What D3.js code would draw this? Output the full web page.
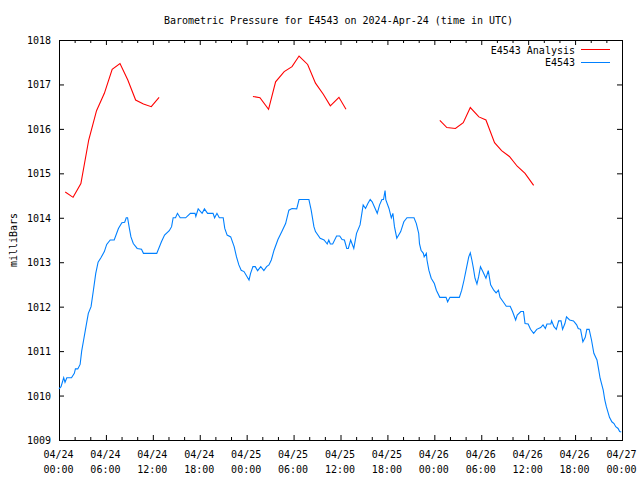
<!DOCTYPE html>
<html><head><meta charset="utf-8">
<script src="https://cdn.jsdelivr.net/npm/d3@7"></script>
<style>
body{margin:0;background:#fff}
svg text{font-family:"DejaVu Sans Mono",monospace;font-size:10px;fill:#000}
</style>
</head><body><svg id="c" width="640" height="480"></svg>
<script>
const titleText = "Barometric Pressure for E4543 on 2024-Apr-24 (time in UTC)";
const yLabelText = "milliBars";
const seriesNames = ["E4543 Analysis", "E4543"];
const seriesColors = ["#ff0000", "#0080ff"];
const xTickHours = [0,6,12,18,24,30,36,42,48,54,60,66,72];
const xTickDates = ["04/24","04/24","04/24","04/24","04/25","04/25","04/25","04/25","04/26","04/26","04/26","04/26","04/27"];
const xTickTimes = ["00:00","06:00","12:00","18:00","00:00","06:00","12:00","18:00","00:00","06:00","12:00","18:00","00:00"];
const yTicks = [1009,1010,1011,1012,1013,1014,1015,1016,1017,1018];

// Analysis series (hours since 04/24 00:00 UTC); null = gap
const analysisHours = [0.8,1.8,2.8,3.8,4.8,5.8,6.8,7.8,8.8,9.8,10.8,11.8,12.8,
  18.8,
  24.8,25.7,26.8,27.7,28.8,29.8,30.7,31.8,32.8,33.8,34.7,35.8,36.7,
  42.8,
  48.7,49.6,50.7,51.7,52.6,53.7,54.6,55.7,56.6,57.6,58.6,59.6,60.7];
const analysisValues = [1014.58,1014.46,1014.77,1015.75,1016.41,1016.80,1017.34,1017.47,1017.10,1016.65,1016.56,1016.50,1016.71,
  null,
  1016.73,1016.70,1016.44,1017.06,1017.29,1017.40,1017.64,1017.45,1017.03,1016.78,1016.52,1016.71,1016.44,
  null,
  1016.19,1016.03,1016.01,1016.14,1016.48,1016.27,1016.20,1015.69,1015.51,1015.38,1015.16,1015.00,1014.73];

// Observed series
const obsHours = [0,0.26,0.6,0.77,1.0,1.6,1.96,2.1,2.4,2.7,2.9,3.15,3.45,3.75,4.1,4.4,4.7,5.0,5.36,5.8,
  6.1,6.55,7.06,7.6,8.04,8.4,8.6,8.77,9.0,9.2,9.5,10.0,10.55,10.8,12.5,13.1,13.5,14.1,14.4,14.6,
  14.9,15.15,15.5,16.2,16.8,17.4,17.5,17.8,18.3,18.6,19.0,19.7,19.9,20.2,20.5,21.0,21.2,21.5,21.96,22.4,
  22.7,23.0,23.3,23.66,24.3,24.5,24.8,25.1,25.4,25.8,26.2,26.55,26.85,27.15,27.5,28.0,28.5,28.98,29.4,29.8,
  30.4,30.7,31.96,32.25,32.6,32.8,33.4,33.9,34.3,34.5,34.7,35.0,35.5,35.9,36.2,36.5,36.8,37.0,37.3,37.7,
  38.05,38.5,38.9,39.2,39.5,39.8,40.05,40.7,41.0,41.3,41.5,41.7,41.8,42.2,42.5,42.7,42.9,43.2,43.7,44.1,
  44.5,45.4,45.7,46.0,46.1,46.3,46.6,46.7,46.98,47.06,47.3,47.6,48.0,48.26,48.7,49.5,49.7,50.0,51.2,51.5,
  51.8,52.1,52.4,52.6,52.8,53.0,53.2,53.45,53.66,53.9,54.2,54.6,54.9,55.2,55.6,55.9,56.2,56.4,56.8,57.2,
  57.7,58.0,58.4,58.6,59.06,59.4,59.6,60.0,60.3,60.7,61.1,61.6,61.9,62.2,62.4,62.9,63.0,63.3,63.6,63.9,
  64.2,64.4,64.7,64.9,65.3,65.8,66.2,66.4,66.7,67.0,67.3,67.5,67.8,68.1,68.4,68.8,69.0,69.2,69.6,69.8,
  70.0,70.4,70.7,70.98,71.2,71.5,71.7,71.9];
const obsValues = [1010.15,1010.2,1010.4,1010.3,1010.4,1010.4,1010.5,1010.6,1010.6,1010.7,1011.0,1011.25,1011.55,1011.85,1012.0,1012.37,1012.75,1013.0,1013.1,1013.24,
  1013.4,1013.5,1013.5,1013.76,1013.89,1013.9,1014.0,1014.0,1013.76,1013.57,1013.42,1013.31,1013.29,1013.2,1013.2,1013.46,1013.61,1013.71,1013.8,1014.0,
  1014.0,1014.1,1014.0,1014.0,1014.1,1014.1,1014.03,1014.2,1014.1,1014.2,1014.1,1014.1,1014.0,1014.1,1014.0,1014.0,1013.76,1013.61,1013.57,1013.35,
  1013.12,1012.94,1012.82,1012.79,1012.6,1012.75,1012.9,1012.9,1012.81,1012.9,1012.81,1012.9,1012.94,1013.05,1013.27,1013.51,1013.69,1013.87,1014.17,1014.21,
  1014.2,1014.41,1014.41,1014.17,1013.8,1013.69,1013.54,1013.5,1013.41,1013.5,1013.41,1013.41,1013.59,1013.59,1013.51,1013.5,1013.31,1013.31,1013.5,1013.31,
  1013.65,1013.84,1014.29,1014.21,1014.32,1014.41,1014.36,1014.1,1014.29,1014.41,1014.41,1014.61,1014.4,1014.21,1014.0,1014.1,1013.8,1013.54,1013.69,1013.91,
  1014.0,1014.0,1013.87,1013.65,1013.42,1013.27,1013.2,1013.12,1013.2,1013.05,1012.82,1012.64,1012.52,1012.37,1012.21,1012.21,1012.11,1012.21,1012.21,1012.37,
  1012.6,1012.86,1013.12,1013.21,1013.05,1012.86,1012.64,1012.51,1012.67,1012.9,1012.79,1012.64,1012.81,1012.49,1012.37,1012.31,1012.37,1012.21,1012.11,1012.01,
  1012.01,1011.89,1011.7,1011.81,1011.89,1011.89,1011.62,1011.61,1011.49,1011.4,1011.49,1011.53,1011.59,1011.51,1011.61,1011.61,1011.68,1011.55,1011.49,1011.68,
  1011.68,1011.49,1011.62,1011.77,1011.7,1011.68,1011.59,1011.51,1011.49,1011.21,1011.31,1011.49,1011.49,1011.25,1010.95,1010.8,1010.6,1010.39,1010.12,1009.9,
  1009.75,1009.51,1009.41,1009.37,1009.3,1009.26,1009.19,1009.18];

const svg = d3.select("#c");
const L = 59, R = 622, T = 40, B = 440;
const x = d3.scaleLinear().domain([0, 72]).range([L, R]);
const y = d3.scaleLinear().domain([1009, 1018]).range([B, T]);

function clean(g){ g.select(".domain").remove(); g.selectAll("text").remove(); g.selectAll("line").attr("stroke","#000"); }
const minorHours = d3.range(0, 73, 2).filter(h => h % 6 !== 0);

svg.append("g").attr("transform",`translate(0,${B})`).call(d3.axisBottom(x).tickValues(xTickHours).tickSize(-5)).call(clean);
svg.append("g").attr("transform",`translate(0,${B})`).call(d3.axisBottom(x).tickValues(minorHours).tickSize(-3)).call(clean);
svg.append("g").attr("transform",`translate(0,${T})`).call(d3.axisTop(x).tickValues(xTickHours).tickSize(-5)).call(clean);
svg.append("g").attr("transform",`translate(0,${T})`).call(d3.axisTop(x).tickValues(minorHours).tickSize(-3)).call(clean);
svg.append("g").attr("transform",`translate(${L},0)`).call(d3.axisLeft(y).tickValues(yTicks).tickSize(-5)).call(clean);
svg.append("g").attr("transform",`translate(${R},0)`).call(d3.axisRight(y).tickValues(yTicks).tickSize(-5)).call(clean);

svg.append("rect").attr("x", L + 0.5).attr("y", T + 0.5).attr("width", R - L).attr("height", B - T)
  .attr("fill","none").attr("stroke","#000").attr("stroke-width",1).attr("shape-rendering","crispEdges");

// tick labels
svg.append("g").selectAll("text").data(yTicks).join("text")
  .attr("x", L - 8).attr("y", d => y(d) + 4).attr("text-anchor","end").text(d => d);
const xl = svg.append("g").selectAll("g").data(xTickHours).join("g");
xl.append("text").attr("x", d => x(d) - 0.5).attr("y", 458).attr("text-anchor","middle").text((d,i) => xTickDates[i]);
xl.append("text").attr("x", d => x(d) - 0.5).attr("y", 472.5).attr("text-anchor","middle").text((d,i) => xTickTimes[i]);

// title and axis label
svg.append("text").attr("x", 338.5).attr("y", 24).attr("text-anchor","middle").text(titleText);
svg.append("text").attr("transform","translate(16.5,240) rotate(-90)").attr("text-anchor","middle").text(yLabelText);

// series
const line = d3.line().defined(d => d.v != null).x(d => x(d.h)).y(d => y(d.v));
const analysisData = analysisHours.map((h,i) => ({h, v: analysisValues[i]}));
const obsData = obsHours.map((h,i) => ({h, v: obsValues[i]}));
svg.append("path").datum(analysisData).attr("d", line).attr("fill","none").attr("stroke", seriesColors[0]).attr("stroke-width",1.1);
svg.append("path").datum(obsData).attr("d", line).attr("fill","none").attr("stroke", seriesColors[1]).attr("stroke-width",1.1);

// legend
const leg = svg.append("g").selectAll("g").data(seriesNames).join("g")
  .attr("transform", (d,i) => `translate(0,${49.5 + i*12.5})`);
leg.append("text").attr("x", 575).attr("y", 4).attr("text-anchor","end").text(d => d);
leg.append("line").attr("x1", 581).attr("x2", 610).attr("y1", 0).attr("y2", 0)
  .attr("stroke", (d,i) => seriesColors[i]).attr("stroke-width",1).attr("shape-rendering","crispEdges");
</script>
</body></html>
